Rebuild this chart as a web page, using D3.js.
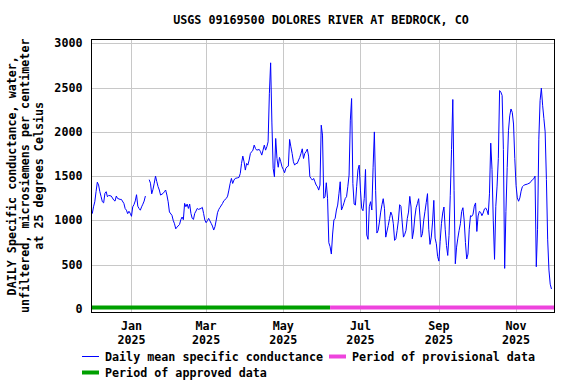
<!DOCTYPE html>
<html>
<head>
<meta charset="utf-8">
<script src="https://cdn.jsdelivr.net/npm/d3@7/dist/d3.min.js"></script>
<style>
  body { margin: 0; background: #fff; }
  svg text {
    font-family: "DejaVu Sans Mono", monospace;
    font-weight: bold;
    font-size: 11.7px;
    fill: #000;
  }
</style>
</head>
<body>
<svg id="chart" width="576" height="384"></svg>
<script>
// daily mean specific conductance, [day of month, uS/cm at 25 C], null = no record
const dec2024 = [[1,1076],[2,1153],[3,1210],[4,1324],[5,1431],[6,1400],[7,1324],[8,1267],[9,1210],[10,1198],
  [11,1305],[12,1324],[13,1267],[14,1282],[16,1275],[18,1229],[19,1218],[20,1275],[21,1248],[23,1237],
  [24,1237],[26,1191],[27,1134],[28,1115],[29,1076],[30,1103],[31,1080]];
const jan2025 = [[1,1046],[2,1153],[3,1179],[4,1220],[5,1290],[6,1160],[7,1134],[8,1115],[9,1153],[10,1183],
  [11,1218],[12,1275],[13,null],[14,null],[15,1460],[16,1420],[17,1300],[18,1351],[19,1420],[20,1500],
  [21,1439],[22,1382],[23,1343],[24,1286],[26,1305],[27,1324],[28,1343],[29,1286],[30,1210],[31,1095]];
const feb2025 = [[2,1057],[3,1000],[4,962],[5,905],[6,924],[8,954],[9,1008],[10,1038],[11,1008],[12,1192],
  [13,1154],[14,1184],[15,1135],[16,1184],[17,1079],[18,1023],[19,1011],[20,1079],[21,1105],[22,1135],
  [23,1124],[25,1135],[26,1147],[27,1079],[28,1004]];
const mar2025 = [[1,974],[2,996],[3,1023],[5,966],[6,936],[7,891],[8,929],[9,1004],[10,1086],[11,1124],
  [12,1147],[14,1192],[15,1222],[17,1248],[18,1274],[19,1342],[20,1417],[21,1474],[22,1417],[23,1455],
  [24,1474],[26,1481],[27,1485],[28,1530],[29,1643],[30,1726],[31,1662]];
const apr2025 = [[1,1568],[2,1643],[3,1624],[4,1681],[5,1756],[6,1775],[7,1793],[8,1850],[9,1812],[10,1793],
  [12,1801],[13,1775],[14,1737],[15,1793],[16,1850],[17,1793],[18,1831],[19,1887],[20,2430],[21,2779],
  [22,2100],[23,1587],[24,1493],[25,1925],[26,1700],[27,1600],[28,1711],[29,1662],[30,1605]];
const may2025 = [[1,1575],[2,1538],[3,1587],[4,1605],[5,1613],[6,1914],[7,1831],[8,1756],[9,1662],[10,1624],
  [11,1643],[12,1643],[14,1711],[15,1756],[16,1808],[17,1699],[18,1756],[19,1775],[20,1805],[21,1726],
  [22,1493],[23,1474],[24,1455],[25,1474],[26,1436],[27,1399],[28,1380],[29,1342],[30,1399],[31,2075]];
const jun2025 = [[1,1963],[2,1250],[3,1267],[4,1425],[5,1250],[6,748],[7,703],[8,620],[9,846],[10,1004],
  [11,1023],[12,1117],[13,1173],[14,1300],[15,1436],[16,1117],[17,1154],[18,1199],[19,1248],[20,1267],
  [21,1380],[22,1511],[23,2132],[24,2376],[25,1417],[26,1184],[27,1173],[28,1380],[29,1568],[30,1624]];
const jul2025 = [[1,1342],[2,1135],[3,1109],[4,1248],[5,1575],[6,835],[7,786],[8,1154],[9,1211],[10,1117],
  [11,1600],[12,1999],[13,1339],[14,857],[15,887],[16,981],[17,1094],[18,1177],[19,1245],[20,1132],
  [21,811],[22,880],[23,943],[24,1020],[25,1094],[26,1057],[27,962],[28,774],[29,793],[30,887],[31,1000]];
const aug2025 = [[1,1177],[2,1158],[3,981],[4,811],[5,842],[6,887],[7,1019],[8,1094],[9,1271],[10,1151],
  [11,793],[12,880],[13,1038],[14,1143],[15,1189],[16,1245],[17,1050],[18,811],[19,849],[20,1000],
  [21,1100],[22,1200],[23,1302],[24,900],[25,729],[26,811],[27,981],[28,1226],[29,800],[30,736],[31,593]];
const sep2025 = [[1,540],[2,760],[3,962],[4,1083],[5,1151],[6,900],[7,717],[8,604],[9,830],[10,1283],
  [11,1800],[12,2365],[13,1339],[14,510],[15,698],[16,800],[17,887],[18,962],[19,1100],[20,1143],
  [21,1000],[22,750],[23,564],[24,620],[25,900],[26,1053],[27,1045],[28,1070],[29,1160],[30,1197]];
const oct2025 = [[1,875],[2,1050],[3,1102],[4,1091],[5,1053],[6,1083],[7,1129],[8,1140],[9,1114],[10,1064],
  [11,1300],[12,1872],[13,1576],[14,1000],[15,560],[16,1159],[17,1387],[18,1700],[19,2466],[20,2448],
  [21,2410],[22,1800],[23,458],[24,1100],[25,1595],[26,2012],[27,2180],[28,2258],[29,2220],[30,2088],[31,1700]];
const nov2025 = [[1,1394],[2,1254],[3,1216],[4,1254],[5,1330],[6,1380],[7,1394],[8,1402],[10,1410],[12,1424],
  [13,1443],[14,1460],[15,1470],[16,1500],[17,477],[18,900],[19,1917],[20,2353],[21,2493],[22,2300],
  [23,2150],[24,2000],[25,1462],[26,780],[27,439],[28,280],[29,225]];

const monthBlocks = [["2024-12",dec2024],["2025-01",jan2025],["2025-02",feb2025],["2025-03",mar2025],
  ["2025-04",apr2025],["2025-05",may2025],["2025-06",jun2025],["2025-07",jul2025],["2025-08",aug2025],
  ["2025-09",sep2025],["2025-10",oct2025],["2025-11",nov2025]];

const yTicks = [0, 500, 1000, 1500, 2000, 2500, 3000];
const xTickDates = ["2025-01-01","2025-03-01","2025-05-01","2025-07-01","2025-09-01","2025-11-01"];
const xTickMonths = ["Jan","Mar","May","Jul","Sep","Nov"];
const xTickYears = ["2025","2025","2025","2025","2025","2025"];
const dateRange = ["2024-11-30","2025-12-01"];
const approvedPeriod = ["2024-11-30","2025-06-07"];
const provisionalPeriod = ["2025-06-07","2025-12-01"];

const title = "USGS 09169500 DOLORES RIVER AT BEDROCK, CO";
const yLabel = ["DAILY Specific conductance, water,",
                "unfiltered, microsiemens per centimeter",
                "at 25 degrees Celsius"];

const BLUE = "#0000ff", GREEN = "#00a000", PINK = "#ee44dd", GRID = "#c8c8c8";

const parse = d3.utcParse("%Y-%m-%d");
const series = [];
monthBlocks.forEach(([ym, rows]) => {
  rows.forEach(([d, v]) => series.push({ date: parse(`${ym}-${String(d).padStart(2, "0")}`), value: v }));
});

const plot = { left: 91, right: 554, top: 39, bottom: 312.5 };
const svg = d3.select("#chart");

const x = d3.scaleUtc().domain(dateRange.map(parse)).range([plot.left, plot.right]);
const y = d3.scaleLinear().domain([-40, 3048]).range([plot.bottom, plot.top]);

// title
svg.append("text")
  .attr("x", 321).attr("y", 20).attr("dy", "0.35em")
  .attr("text-anchor", "middle")
  .text(title);

// grid
const grid = svg.append("g").attr("shape-rendering", "crispEdges");
grid.selectAll("line.h").data(yTicks.slice(1)).join("line")
  .attr("x1", plot.left).attr("x2", plot.right)
  .attr("y1", d => Math.round(y(d)) + 0.5).attr("y2", d => Math.round(y(d)) + 0.5)
  .attr("stroke", GRID);
grid.selectAll("line.v").data(xTickDates).join("line")
  .attr("x1", d => Math.round(x(parse(d))) + 0.5).attr("x2", d => Math.round(x(parse(d))) + 0.5)
  .attr("y1", plot.top).attr("y2", plot.bottom)
  .attr("stroke", GRID);

// y tick labels
svg.append("g").selectAll("text").data(yTicks).join("text")
  .attr("x", 82.5).attr("y", d => y(d)).attr("dy", "0.35em")
  .attr("text-anchor", "end")
  .text(d => d);

// x tick labels, two lines
const xl = svg.append("g").selectAll("text").data(xTickDates).join("text")
  .attr("text-anchor", "middle");
xl.append("tspan").attr("x", d => x(parse(d))).attr("y", 326).attr("dy", "0.35em")
  .text((d, i) => xTickMonths[i]);
xl.append("tspan").attr("x", d => x(parse(d))).attr("y", 339.5).attr("dy", "0.35em")
  .text((d, i) => xTickYears[i]);

// y label, three centred lines rotated
const yl = svg.append("text")
  .attr("transform", `translate(0,${(plot.top + plot.bottom) / 2}) rotate(-90)`)
  .attr("text-anchor", "middle");
yLabel.forEach((s, i) => {
  yl.append("tspan").attr("x", 0).attr("y", 11.5 + i * 13.5).attr("dy", "0.35em").text(s);
});

// approval status bars
const barY = y(16);
svg.append("line")
  .attr("x1", x(parse(approvedPeriod[0]))).attr("x2", x(parse(approvedPeriod[1])))
  .attr("y1", barY).attr("y2", barY)
  .attr("stroke", GREEN).attr("stroke-width", 4);
svg.append("line")
  .attr("x1", x(parse(provisionalPeriod[0]))).attr("x2", x(parse(provisionalPeriod[1])))
  .attr("y1", barY).attr("y2", barY)
  .attr("stroke", PINK).attr("stroke-width", 4);

// data line
const line = d3.line()
  .defined(d => d.value != null)
  .x(d => x(d.date))
  .y(d => y(d.value));
svg.append("path")
  .datum(series)
  .attr("fill", "none")
  .attr("stroke", BLUE)
  .attr("stroke-width", 1)
  .attr("d", line);

// frame
svg.append("rect")
  .attr("x", plot.left + 0.5).attr("y", plot.top + 0.5)
  .attr("width", plot.right - plot.left).attr("height", plot.bottom - plot.top - 0.5)
  .attr("fill", "none").attr("stroke", "#000").attr("stroke-width", 1.2)
  .attr("shape-rendering", "crispEdges");

// legend
const legend = [
  { x: 82, y: 356.5, color: BLUE, w: 1, label: "Daily mean specific conductance" },
  { x: 329, y: 356.5, color: PINK, w: 4, label: "Period of provisional data" },
  { x: 82, y: 372.5, color: GREEN, w: 4, label: "Period of approved data" }
];
const lg = svg.append("g").selectAll("g").data(legend).join("g");
lg.append("line")
  .attr("x1", d => d.x).attr("x2", d => d.x + 17)
  .attr("y1", d => d.y).attr("y2", d => d.y)
  .attr("stroke", d => d.color).attr("stroke-width", d => d.w);
lg.append("text")
  .attr("x", d => d.x + 23).attr("y", d => d.y).attr("dy", "0.35em")
  .text(d => d.label);
</script>
</body>
</html>
